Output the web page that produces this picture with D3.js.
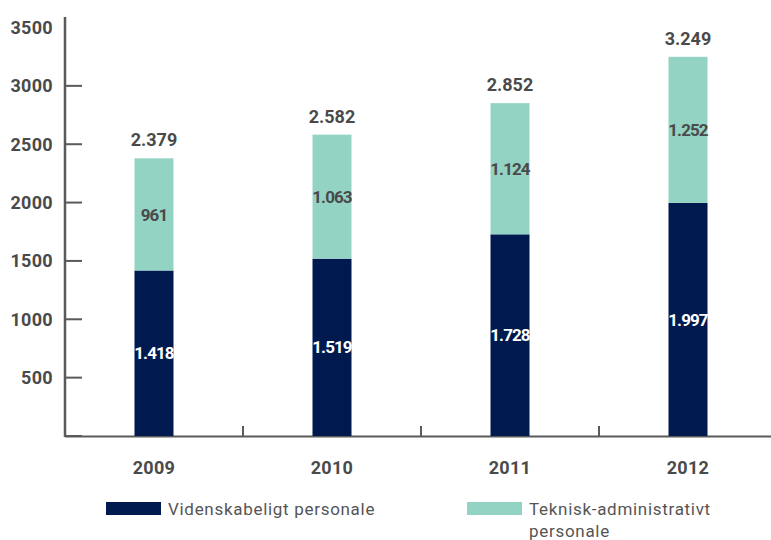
<!DOCTYPE html>
<html>
<head>
<meta charset="utf-8">
<script src="https://cdn.jsdelivr.net/npm/d3@7"></script>
<style>
  body { margin: 0; background: #fff; }
  text { font-family: Roboto, "DejaVu Sans", sans-serif; }
</style>
</head>
<body>
<script>
// data
var years = ["2009", "2010", "2011", "2012"];
var videnskabeligt = [1418, 1519, 1728, 1997];
var teknisk = [961, 1063, 1124, 1252];
var yTicks = [500, 1000, 1500, 2000, 2500, 3000, 3500];
var seriesNames = ["Videnskabeligt personale", "Teknisk-administrativt personale"];

function init() {
    var w = 771, h = 540;
    var navy = "#001a50", teal = "#93d3c4", grey = "#4a4a4a", axisCol = "#5a5a5a";

    var dk = d3.formatLocale({decimal: ",", thousands: ".", grouping: [3], currency: ["", " kr."]});
    var fmt = dk.format(",d");

    var rows = years.map(function(y, i) {
        return {year: y, v: videnskabeligt[i], t: teknisk[i], total: videnskabeligt[i] + teknisk[i]};
    });

    var x = d3.scaleBand().domain(years).range([65, 777]);
    var y = d3.scaleLinear().domain([0, 3500]).range([436, 27.5]);
    var barW = 39;

    var svg = d3.select("body").append("svg")
        .attr("width", w).attr("height", h);

    // y axis: line from top, ticks pointing inward
    svg.append("line")
        .attr("x1", 65).attr("x2", 65).attr("y1", 17).attr("y2", 437)
        .attr("stroke", axisCol).attr("stroke-width", 2.5);

    var yg = svg.append("g");
    yg.selectAll("line.tick").data(yTicks.filter(function(d) { return d < 3500; }).concat([0]))
        .enter().append("line")
        .attr("x1", 65).attr("x2", 82)
        .attr("y1", function(d) { return y(d); })
        .attr("y2", function(d) { return y(d); })
        .attr("stroke", axisCol).attr("stroke-width", 2);
    yg.selectAll("text").data(yTicks).enter().append("text")
        .attr("x", 53).attr("y", function(d) { return y(d); })
        .attr("dy", "0.36em")
        .attr("text-anchor", "end")
        .attr("font-size", 18).attr("font-weight", "bold")
        .attr("letter-spacing", "0.3")
        .attr("fill", grey)
        .text(function(d) { return d; });

    // x axis line + ticks between categories
    svg.append("line")
        .attr("x1", 65).attr("x2", 771).attr("y1", 436.5).attr("y2", 436.5)
        .attr("stroke", axisCol).attr("stroke-width", 2);
    svg.selectAll("line.xtick").data(years.slice(1)).enter().append("line")
        .attr("x1", function(d) { return x(d); })
        .attr("x2", function(d) { return x(d); })
        .attr("y1", 426).attr("y2", 436)
        .attr("stroke", axisCol).attr("stroke-width", 2);
    svg.selectAll("text.year").data(years).enter().append("text")
        .attr("x", function(d) { return x(d) + x.bandwidth() / 2; })
        .attr("y", 474)
        .attr("text-anchor", "middle")
        .attr("font-size", 18).attr("font-weight", "bold")
        .attr("letter-spacing", "0.3")
        .attr("fill", grey)
        .text(function(d) { return d; });

    var bars = svg.selectAll("g.bar").data(rows).enter().append("g");

    bars.append("rect")
        .attr("x", function(d) { return x(d.year) + x.bandwidth() / 2 - barW / 2; })
        .attr("width", barW)
        .attr("y", function(d) { return y(d.v); })
        .attr("height", function(d) { return y(0) - y(d.v); })
        .attr("fill", navy);

    bars.append("rect")
        .attr("x", function(d) { return x(d.year) + x.bandwidth() / 2 - barW / 2; })
        .attr("width", barW)
        .attr("y", function(d) { return y(d.total); })
        .attr("height", function(d) { return y(d.v) - y(d.total); })
        .attr("fill", teal);

    // segment labels
    bars.append("text")
        .attr("x", function(d) { return x(d.year) + x.bandwidth() / 2; })
        .attr("y", function(d) { return (y(0) + y(d.v)) / 2; })
        .attr("dy", "0.36em").attr("text-anchor", "middle")
        .attr("font-size", 17).attr("font-weight", "bold")
        .attr("letter-spacing", "-0.9")
        .attr("fill", "#fff")
        .text(function(d) { return fmt(d.v); });

    bars.append("text")
        .attr("x", function(d) { return x(d.year) + x.bandwidth() / 2; })
        .attr("y", function(d) { return (y(d.v) + y(d.total)) / 2; })
        .attr("dy", "0.36em").attr("text-anchor", "middle")
        .attr("font-size", 17).attr("font-weight", "bold")
        .attr("letter-spacing", "-0.9")
        .attr("fill", grey)
        .text(function(d) { return fmt(d.t); });

    // totals
    bars.append("text")
        .attr("x", function(d) { return x(d.year) + x.bandwidth() / 2; })
        .attr("y", function(d) { return y(d.total) - 12; })
        .attr("text-anchor", "middle")
        .attr("font-size", 18).attr("font-weight", "bold")
        .attr("fill", grey)
        .text(function(d) { return fmt(d.total); });

    // legend
    var legend = [
        {x: 106, color: navy, lines: [seriesNames[0]]},
        {x: 467, color: teal, lines: ["Teknisk-administrativt", "personale"]}
    ];
    var lg = svg.selectAll("g.legend").data(legend).enter().append("g");
    lg.append("rect")
        .attr("x", function(d) { return d.x; })
        .attr("y", 502).attr("width", 55).attr("height", 13)
        .attr("fill", function(d) { return d.color; });
    lg.each(function(d) {
        var t = d3.select(this).append("text")
            .attr("font-size", 17).attr("fill", "#555")
            .attr("letter-spacing", "0.7");
        d.lines.forEach(function(line, i) {
            t.append("tspan")
                .attr("x", d.x + 62)
                .attr("y", 515 + i * 22)
                .text(line);
        });
    });
}
window.onload = init;
</script>
</body>
</html>
